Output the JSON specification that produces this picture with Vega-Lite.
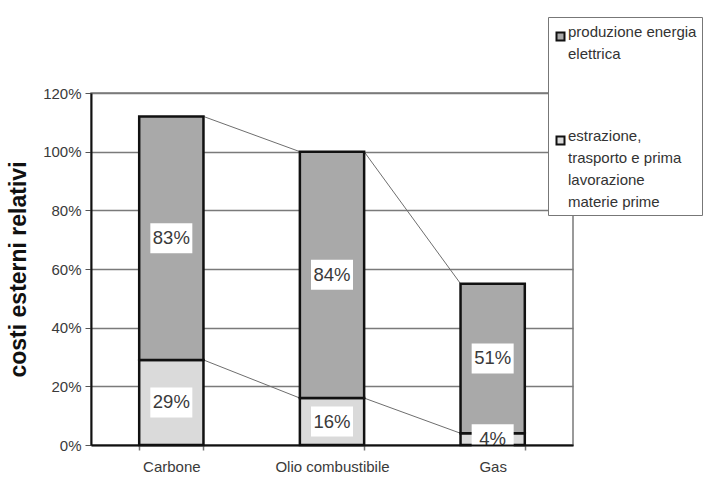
{
  "$schema": "https://vega.github.io/schema/vega-lite/v6.json",
  "width": 482,
  "height": 352,
  "autosize": {"type": "none"},
  "padding": {"left": 91, "top": 93, "right": 142, "bottom": 41},
  "background": "white",
  "config": {
    "font": "Liberation Sans",
    "view": {"stroke": "#7a7a7a", "strokeWidth": 1.5},
    "axis": {"labelFont": "Liberation Sans", "labelColor": "#3a3a3a"},
    "style": {"guide-label": {"lineHeight": 22}}
  },
  "datasets": {
    "costi": [
      {"fonte": "Carbone", "fase": "estrazione, trasporto  e prima lavorazione materie prime", "ordine": 1, "valore": 29},
      {"fonte": "Carbone", "fase": "produzione energia elettrica", "ordine": 2, "valore": 83},
      {"fonte": "Olio combustibile", "fase": "estrazione, trasporto  e prima lavorazione materie prime", "ordine": 1, "valore": 16},
      {"fonte": "Olio combustibile", "fase": "produzione energia elettrica", "ordine": 2, "valore": 84},
      {"fonte": "Gas", "fase": "estrazione, trasporto  e prima lavorazione materie prime", "ordine": 1, "valore": 4},
      {"fonte": "Gas", "fase": "produzione energia elettrica", "ordine": 2, "valore": 51}
    ],
    "collegamenti": [
      {"da": "Carbone", "a": "Olio combustibile", "v1": 112, "v2": 100},
      {"da": "Olio combustibile", "a": "Gas", "v1": 100, "v2": 55},
      {"da": "Carbone", "a": "Olio combustibile", "v1": 29, "v2": 16},
      {"da": "Olio combustibile", "a": "Gas", "v1": 16, "v2": 4}
    ]
  },
  "encoding": {
    "x": {
      "field": "fonte",
      "type": "nominal",
      "sort": ["Carbone", "Olio combustibile", "Gas"],
      "scale": {"domain": ["Carbone", "Olio combustibile", "Gas"], "paddingInner": 0.6, "paddingOuter": 0.3},
      "axis": {
        "title": null,
        "zindex": 1,
        "labelAngle": 0,
        "labelFontSize": 15,
        "domainColor": "#111",
        "domainWidth": 2,
        "tickBand": "extent",
        "tickColor": "#777",
        "tickWidth": 1.5,
        "tickSize": 5,
        "labelPadding": 9,
        "grid": false
      }
    }
  },
  "layer": [
    {
      "data": {"name": "collegamenti"},
      "mark": {"type": "rule", "color": "#6e6e6e", "strokeWidth": 1},
      "encoding": {
        "x": {"field": "da", "type": "nominal", "bandPosition": 1},
        "x2": {"field": "a", "bandPosition": 0},
        "y": {"field": "v1", "type": "quantitative"},
        "y2": {"field": "v2"}
      }
    },
    {
      "data": {"name": "costi"},
      "mark": {"type": "bar", "stroke": "#111", "strokeWidth": 2.5},
      "encoding": {
        "y": {
          "field": "valore",
          "type": "quantitative",
          "stack": "zero",
          "scale": {"domain": [0, 120], "nice": false},
          "axis": {
            "title": "costi esterni relativi",
            "titleFont": "Liberation Sans",
            "titleFontSize": 23,
            "titleFontWeight": "bold",
            "titleColor": "#111",
            "titlePadding": 12,
            "values": [0, 20, 40, 60, 80, 100, 120],
            "labelExpr": "datum.value + '%'",
            "labelFontSize": 15,
            "domainColor": "#111",
            "domainWidth": 2,
            "tickColor": "#555",
            "tickSize": 6,
            "labelPadding": 4,
            "gridColor": "#7a7a7a",
            "gridWidth": 1.5
          }
        },
        "order": {"field": "ordine", "type": "quantitative"},
        "color": {
          "field": "fase",
          "type": "nominal",
          "scale": {
            "domain": ["produzione energia elettrica", "estrazione, trasporto  e prima lavorazione materie prime"],
            "range": ["#a9a9a9", "#dadada"]
          },
          "legend": {
            "title": " ",
            "titleFontSize": 4,
            "titlePadding": 3,
            "orient": "none",
            "legendX": 457,
            "legendY": -76,
            "direction": "vertical",
            "fillColor": "white",
            "strokeColor": "#777",
            "padding": 5,
            "symbolType": "square",
            "symbolSize": 64,
            "symbolStrokeColor": "#111",
            "symbolStrokeWidth": 2,
            "labelFont": "Liberation Sans",
            "labelFontSize": 15,
            "labelColor": "#333",
            "labelBaseline": "alphabetic",
            "labelLimit": 220,
            "labelOffset": 0,
            "rowPadding": 66,
            "labelExpr": "datum.label == 'produzione energia elettrica' ? ['produzione energia', 'elettrica'] : ['estrazione,', 'trasporto  e prima', 'lavorazione', 'materie prime']"
          }
        }
      }
    },
    {
      "data": {"name": "costi"},
      "mark": {"type": "point", "shape": "M-1.4,-1H1.4V1H-1.4Z", "filled": true, "color": "white", "opacity": 1, "size": 900, "strokeWidth": 0},
      "encoding": {
        "y": {"field": "valore", "type": "quantitative", "stack": "zero", "bandPosition": 0.5},
        "order": {"field": "ordine", "type": "quantitative"},
        "detail": {"field": "fase"}
      }
    },
    {
      "data": {"name": "costi"},
      "mark": {"type": "text", "font": "Liberation Sans", "fontSize": 18.5, "color": "#3a3a3a", "baseline": "middle", "text": {"expr": "datum.valore + '%'"}},
      "encoding": {
        "y": {"field": "valore", "type": "quantitative", "stack": "zero", "bandPosition": 0.5},
        "order": {"field": "ordine", "type": "quantitative"},
        "detail": {"field": "fase"}
      }
    }
  ]
}
